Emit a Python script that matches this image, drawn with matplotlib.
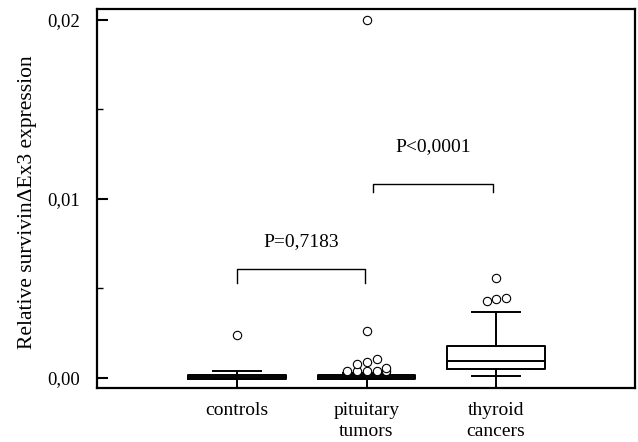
import numpy as np
import matplotlib
matplotlib.use('Agg')
import matplotlib.pyplot as plt

plt.rcParams['font.family'] = ['Liberation Serif', 'DejaVu Serif']

# groups and box statistics
groups = ['controls', 'pituitary\ntumors', 'thyroid\ncancers']
q1 = [-0.00005, -0.00005, 0.0005]
med = [0.00005, 0.00005, 0.00095]
q3 = [0.00018, 0.00015, 0.00179]
whislo = [-0.00003, -0.00003, 0.0001]
whishi = [0.00039, 0.0003, 0.00369]
fliers = [
    [0.0024],
    [0.00039, 0.00039, 0.00039, 0.00039, 0.00039, 0.00078, 0.00089, 0.00106, 0.00056, 0.00263, 0.02],
    [0.0043, 0.00441, 0.00447, 0.00559],
]
flier_dx = [
    [0.0],
    [-0.15, -0.07, 0.0, 0.08, 0.15, -0.07, 0.0, 0.08, 0.15, 0.0, 0.0],
    [-0.07, 0.0, 0.08, 0.0],
]

# significance brackets
p_labels = ['P=0,7183', 'P<0,0001']
br_x = [(1.0, 1.99), (2.05, 2.98)]
br_top = [0.00609, 0.01084]
br_leg = [0.00531, 0.01039]
lab_y = [0.0076, 0.0129]

fig = plt.figure(figsize=(6.38, 4.42), dpi=100)
ax = fig.add_axes([97/638, 1 - 388/442, (635-97)/638, (388-9)/442])

stats = []
for i in range(3):
    stats.append(dict(q1=q1[i], med=med[i], q3=q3[i], whislo=whislo[i],
                      whishi=whishi[i], fliers=[]))
pos = [1, 2, 3]
ax.bxp(stats, positions=pos, widths=0.75, capwidths=0.37, showfliers=False,
       boxprops=dict(color='black', linewidth=1.4),
       medianprops=dict(color='black', linewidth=1.4),
       whiskerprops=dict(color='black', linewidth=1.4),
       capprops=dict(color='black', linewidth=1.4))

ylo = -0.00056
# whiskers continue down to the axis
for i in range(3):
    ax.vlines(pos[i], ylo, whislo[i], color='black', linewidth=1.4)

for i in range(3):
    xs = [pos[i] + d for d in flier_dx[i]]
    ax.plot(xs, fliers[i], 'o', mfc='white', mec='black', ms=6, mew=0.8, clip_on=False)

for i in range(2):
    x0, x1 = br_x[i]
    ax.plot([x0, x0, x1, x1], [br_leg[i], br_top[i], br_top[i], br_leg[i]],
            color='black', linewidth=1.0)
    ax.text((x0 + x1) / 2, lab_y[i], p_labels[i], ha='center', va='center', fontsize=14)

ax.set_xlim(-0.081, 4.073)
ax.set_ylim(ylo, 0.02061)
ax.set_xticks(pos)
ax.set_xticklabels(groups, fontsize=14, linespacing=1.3)
ax.tick_params(axis='x', length=0, pad=10)
ax.set_yticks([0, 0.01, 0.02])
ax.set_yticklabels(['0,00', '0,01', '0,02'], fontsize=13.5)
ax.set_yticks([0.005, 0.015], minor=True)
ax.tick_params(axis='y', which='major', direction='in', length=8, width=1.5, pad=12)
ax.tick_params(axis='y', which='minor', direction='in', length=4, width=1.0)
for s in ax.spines.values():
    s.set_linewidth(1.6)
ax.set_ylabel('Relative survivin\u0394Ex3 expression', fontsize=15.5)
ax.yaxis.set_label_coords(-0.1115, 0.489)

fig.savefig('out.png', dpi=100)
